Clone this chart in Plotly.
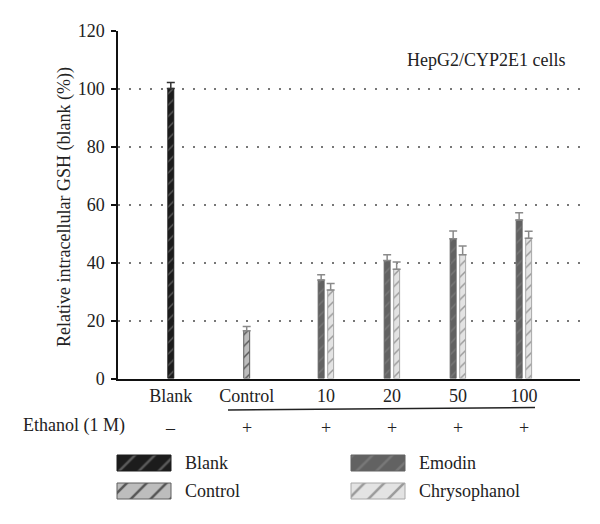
import plotly.graph_objects as go

# ---- data ----
GROUPS = ["Blank", "Control", "10", "20", "50", "100"]
ETHANOL = ["–", "+", "+", "+", "+", "+"]

BLANK = [100.1]
BLANK_ERR = [2.0]
CONTROL = [16.5]
CONTROL_ERR = [1.4]
EMODIN = [34.0, 40.7, 48.2, 54.7]
EMODIN_ERR = [1.8, 2.0, 2.7, 2.5]
CHRYSO = [30.5, 37.7, 42.7, 48.4]
CHRYSO_ERR = [2.3, 2.5, 3.0, 2.4]

# slot centres on the x axis (groups are not evenly spaced in the original)
GROUP_X = [0.0, 1.15, 2.35, 3.35, 4.35, 5.35]
DOSE_X = GROUP_X[2:]

FONT = "Liberation Serif, DejaVu Serif, serif"
PAD = 8                      # page body margin around the figure
W, H = 600 - PAD, 524 - PAD
BAR_W = 0.09

STYLES = {
    "Blank": dict(bg="#1c1c1c", fg="#5a5a5a", line="#1c1c1c", err="#333333"),
    "Control": dict(bg="#bdbdbd", fg="#555555", line="#5e5e5e", err="#8a8a8a"),
    "Emodin": dict(bg="#626262", fg="#787878", line="#626262", err="#8a8a8a"),
    "Chrysophanol": dict(bg="#e3e3e3", fg="#9a9a9a", line="#a8a8a8", err="#8a8a8a"),
}


def px(x):
    return (x - PAD) / W


def py(y):
    return 1 - (y - PAD) / H


def bar_marker(name, size=8):
    s = STYLES[name]
    return dict(
        color=s["bg"],
        line=dict(color=s["line"], width=1),
        pattern=dict(shape="/", fillmode="replace", bgcolor=s["bg"],
                     fgcolor=s["fg"], size=size, solidity=0.18),
    )


def err(name, vals):
    return dict(type="data", symmetric=False, array=vals,
                arrayminus=[0] * len(vals), color=STYLES[name]["err"],
                thickness=1.5, width=4)


fig = go.Figure()

fig.add_trace(go.Bar(x=GROUP_X[:1], y=BLANK, width=BAR_W, offset=-BAR_W / 2,
                     marker=bar_marker("Blank"), error_y=err("Blank", BLANK_ERR)))
fig.add_trace(go.Bar(x=GROUP_X[1:2], y=CONTROL, width=BAR_W, offset=-BAR_W / 2,
                     marker=bar_marker("Control"), error_y=err("Control", CONTROL_ERR)))
fig.add_trace(go.Bar(x=DOSE_X, y=EMODIN, width=BAR_W, offset=-0.117,
                     marker=bar_marker("Emodin"), error_y=err("Emodin", EMODIN_ERR)))
fig.add_trace(go.Bar(x=DOSE_X, y=CHRYSO, width=BAR_W, offset=0.027,
                     marker=bar_marker("Chrysophanol"), error_y=err("Chrysophanol", CHRYSO_ERR)))

# legend swatches, drawn on a screen-pixel overlay axis pair
LEGEND = [("Blank", 117, 463), ("Control", 117, 491),
          ("Emodin", 351, 463), ("Chrysophanol", 351, 491)]
for name, x0, yc in LEGEND:
    fig.add_trace(go.Bar(x=[54], y=[yc], base=[x0], orientation="h", width=16,
                         marker=bar_marker(name, size=14),
                         xaxis="x2", yaxis="y2", hoverinfo="skip"))

txt = dict(family=FONT, size=18, color="#222222")
ann = [
    dict(text="Relative intracellular GSH (blank (%))", x=px(64), y=py(207),
         textangle=-90, xanchor="center", yanchor="middle"),
    dict(text="HepG2/CYP2E1 cells", x=px(567), y=py(60),
         xanchor="right", yanchor="middle"),
    dict(text="Ethanol (1 M)", x=px(21), y=py(425),
         xanchor="left", yanchor="middle"),
]
for name, x0, yc in LEGEND:
    ann.append(dict(text=name, x=px(x0 + 66), y=py(yc),
                    xanchor="left", yanchor="middle"))
for a in ann:
    a.update(xref="paper", yref="paper", showarrow=False, font=txt)
for gx, sign in zip(GROUP_X, ETHANOL):
    ann.append(dict(text=sign, x=gx, xref="x", y=py(428), yref="paper",
                    showarrow=False, font=txt, xanchor="center", yanchor="middle"))

fig.update_layout(
    width=W, height=H,
    margin=dict(l=0, r=0, t=0, b=0),
    paper_bgcolor="white",
    plot_bgcolor="rgba(0,0,0,0)",
    barmode="overlay",
    showlegend=False,
    annotations=ann,
    shapes=[dict(type="line", xref="paper", yref="paper",
                 x0=px(228), x1=px(535), y0=py(410), y1=py(407.5),
                 line=dict(color="#222222", width=1.5))],
    xaxis=dict(
        domain=[px(118), px(580)], range=[-0.8, 6.2],
        tickvals=GROUP_X, ticktext=GROUPS, tickfont=txt,
        ticks="", ticklabelstandoff=0,
        showline=True, linecolor="#111111", linewidth=1.5,
        showgrid=False, zeroline=False, automargin=False, fixedrange=True,
    ),
    yaxis=dict(
        domain=[py(378.5), py(30.7)], range=[0, 120], dtick=20,
        tickfont=txt, ticks="outside", ticklen=5, tickwidth=1.5,
        tickcolor="#111111", ticklabelstandoff=3,
        showline=True, linecolor="#111111", linewidth=1.5,
        showgrid=True, gridcolor="#777777", gridwidth=1.5, griddash="2px,8.7px",
        zeroline=False, automargin=False, fixedrange=True,
    ),
    xaxis2=dict(domain=[0, 1], range=[PAD, PAD + W], visible=False, anchor="y2",
                fixedrange=True),
    yaxis2=dict(domain=[0, 1], range=[PAD + H, PAD], visible=False, anchor="x2",
                fixedrange=True),
)

fig.write_html("out.html")
